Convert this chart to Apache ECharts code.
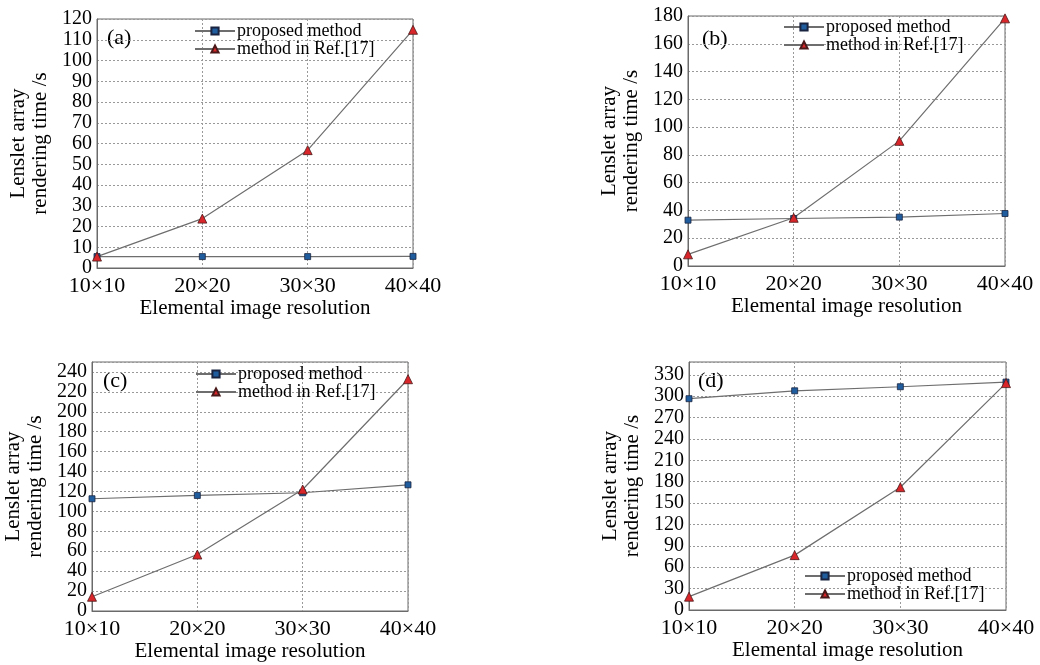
<!DOCTYPE html>
<html><head><meta charset="utf-8">
<script src="https://cdn.jsdelivr.net/npm/echarts@6/dist/echarts.min.js"></script>
<style>html,body{margin:0;padding:0;background:#fff}#c{width:1040px;height:665px}</style>
</head><body><div id="c"></div>
<script>
const categories = ['10×10', '20×20', '30×30', '40×40'];
const seriesNames = ['proposed method', 'method in Ref.[17]'];
const panelLabels = ['(a)', '(b)', '(c)', '(d)'];
const proposedA = [5.5, 5.5, 5.5, 5.6];
const refA = [5.5, 23.8, 56.8, 114.8];
const proposedB = [33.0, 34.2, 35.2, 37.8];
const refB = [8.4, 34.7, 90.1, 178.3];
const proposedC = [112.7, 116.0, 118.7, 126.7];
const refC = [14.3, 56.7, 122.0, 232.7];
const proposedD = [296.5, 307.6, 313.3, 319.8];
const refD = [18.7, 77.0, 172.3, 318.4];
const yMax = [120, 180, 250, 348];
const yInterval = [10, 20, 20, 30];

const FONT = '"Liberation Serif", "DejaVu Serif", serif';
const grids = [
  {left: 97, top: 19, width: 316, height: 249},
  {left: 688, top: 16, width: 317, height: 250},
  {left: 92, top: 362, width: 316, height: 249},
  {left: 689, top: 362, width: 317, height: 248}
];
const legendPos = [
  {left: 194, top: 22},
  {left: 783, top: 18},
  {left: 195, top: 365},
  {left: 804, top: 567}
];
const labelPos = [[107, 39], [702, 40], [103, 382], [698, 382]];
const data = [[proposedA, refA], [proposedB, refB], [proposedC, refC], [proposedD, refD]];

const option = {
  animation: false,
  backgroundColor: '#fff',
  grid: grids.map(g => Object.assign({show: true, borderColor: '#6a6a6a', borderWidth: 1, containLabel: false}, g)),
  xAxis: grids.map((g, i) => ({
    type: 'category', gridIndex: i, data: categories, boundaryGap: false,
    name: 'Elemental image resolution', nameLocation: 'middle', nameGap: 29,
    nameTextStyle: {fontFamily: FONT, fontSize: 21, color: '#000'},
    axisLine: {show: true, lineStyle: {color: '#6a6a6a'}},
    axisTick: {show: false},
    axisLabel: {fontFamily: FONT, fontSize: 22, color: '#000', margin: 7},
    splitLine: {show: true, lineStyle: {color: '#999', type: [2, 2], width: 1}}
  })),
  yAxis: grids.map((g, i) => ({
    type: 'value', gridIndex: i, min: 0, max: yMax[i], interval: yInterval[i],
    name: 'Lenslet array\nrendering time /s', nameLocation: 'middle', nameGap: 46, nameRotate: 90,
    nameTextStyle: {fontFamily: FONT, fontSize: 21, color: '#000', lineHeight: 22},
    axisLine: {show: true, lineStyle: {color: '#6a6a6a'}},
    axisTick: {show: false},
    axisLabel: {fontFamily: FONT, fontSize: 20, color: '#000', margin: 5, showMaxLabel: i < 2},
    splitLine: {show: true, lineStyle: {color: '#999', type: [2, 2], width: 1}}
  })),
  legend: grids.map((g, i) => ({
    orient: 'vertical', left: legendPos[i].left, top: legendPos[i].top,
    data: seriesNames, itemWidth: 40, itemHeight: 9, itemGap: 0,
    padding: 0, backgroundColor: 'transparent',
    textStyle: {fontFamily: FONT, fontSize: 18, color: '#000', lineHeight: 16, padding: [0, 0, 0, -3]}
  })),
  series: [],
  graphic: panelLabels.map((t, i) => ({
    type: 'text', left: labelPos[i][0], top: labelPos[i][1] - 12,
    style: {text: t, font: '22px ' + FONT, fill: '#000'}
  }))
};
for (let i = 0; i < 4; i++) {
  option.series.push({
    name: seriesNames[0], type: 'line', xAxisIndex: i, yAxisIndex: i, data: data[i][0],
    symbol: 'rect', symbolSize: 6,
    lineStyle: {color: '#6e6e6e', width: 1.2},
    itemStyle: {color: '#1f5d9e', borderColor: '#1a2440', borderWidth: 0.8}
  });
  option.series.push({
    name: seriesNames[1], type: 'line', xAxisIndex: i, yAxisIndex: i, data: data[i][1],
    symbol: 'triangle', symbolSize: 9,
    lineStyle: {color: '#6e6e6e', width: 1.2},
    itemStyle: {color: '#d8262a', borderColor: '#4a1a1a', borderWidth: 0.8}
  });
}
const chart = echarts.init(document.getElementById('c'));
chart.setOption(option);
</script></body></html>
